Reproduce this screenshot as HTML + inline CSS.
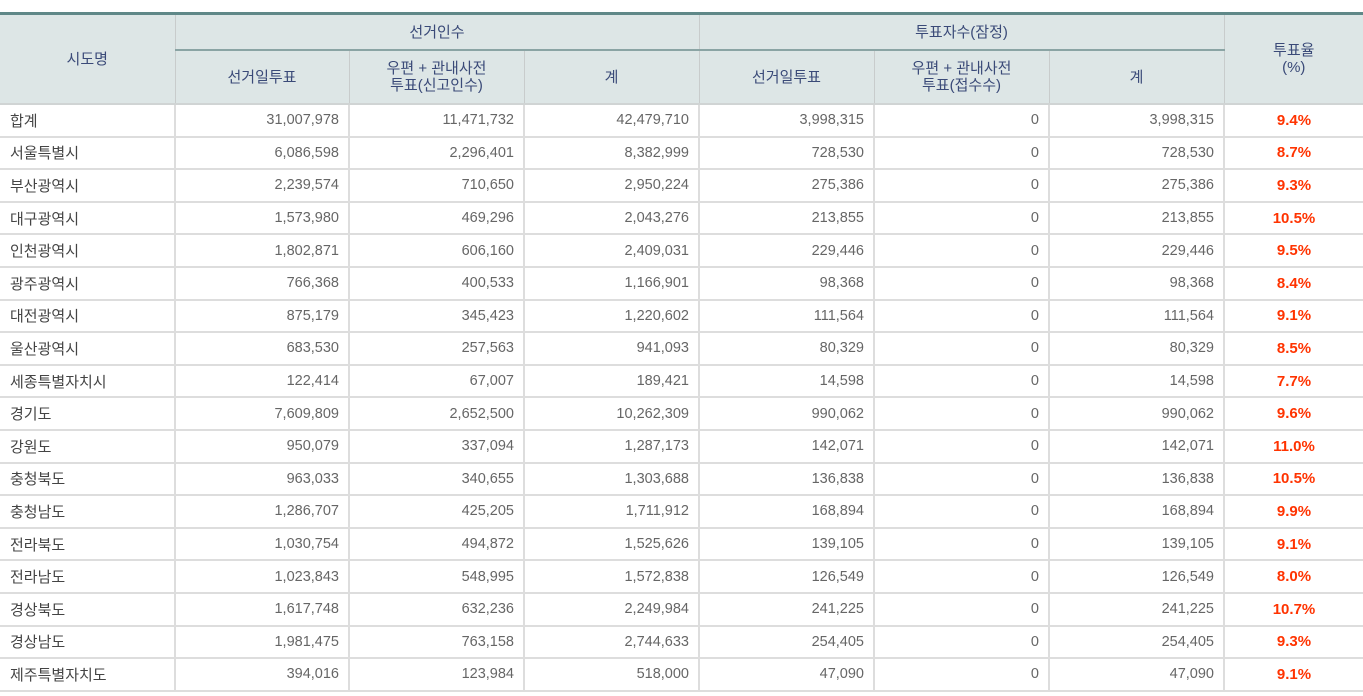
<!DOCTYPE html>
<html><head><meta charset="utf-8"><style>
body{margin:0;background:#fff;width:1363px;height:696px;overflow:hidden;font-family:"Liberation Sans","Noto Sans CJK KR","NanumGothic",sans-serif;}
table{position:absolute;left:0;top:12px;border-collapse:collapse;table-layout:fixed;width:1363px;border-top:3px solid #5f8888;}
th{background:#dde6e6;color:#3a4a78;font-weight:normal;font-size:15px;border-left:1px solid #c8cccc;border-right:1px solid #c8cccc;border-bottom:2px solid #d0d4d4;line-height:17px;padding:0;}
th.g{border-bottom:2px solid #8aa4a4;height:34px;}
tr.h2 th{height:52px;}
td{height:30.6px;border:1px solid #ddd;border-width:0 2px 2px 0;font-size:14.5px;color:#666;text-align:right;padding:0 9px 0 0;}
td:first-child{text-align:left;padding-left:10px;color:#444;font-size:15px;}
td:last-child{text-align:center;color:#ff3300;font-weight:bold;border-right:0;padding:0;font-size:15px;}
th:first-child{border-left:0}th:last-child{border-right:0}
</style></head><body>
<table>
<colgroup><col style="width:175px"><col style="width:174px"><col style="width:175px"><col style="width:175px"><col style="width:175px"><col style="width:175px"><col style="width:175px"><col style="width:139px"></colgroup>
<tr><th rowspan="2">시도명</th><th colspan="3" class="g">선거인수</th><th colspan="3" class="g">투표자수(잠정)</th><th rowspan="2">투표율<br>(%)</th></tr>
<tr class="h2"><th>선거일투표</th><th>우편 + 관내사전<br>투표(신고인수)</th><th>계</th><th>선거일투표</th><th>우편 + 관내사전<br>투표(접수수)</th><th>계</th></tr>
<tr><td>합계</td><td>31,007,978</td><td>11,471,732</td><td>42,479,710</td><td>3,998,315</td><td>0</td><td>3,998,315</td><td>9.4%</td></tr>
<tr><td>서울특별시</td><td>6,086,598</td><td>2,296,401</td><td>8,382,999</td><td>728,530</td><td>0</td><td>728,530</td><td>8.7%</td></tr>
<tr><td>부산광역시</td><td>2,239,574</td><td>710,650</td><td>2,950,224</td><td>275,386</td><td>0</td><td>275,386</td><td>9.3%</td></tr>
<tr><td>대구광역시</td><td>1,573,980</td><td>469,296</td><td>2,043,276</td><td>213,855</td><td>0</td><td>213,855</td><td>10.5%</td></tr>
<tr><td>인천광역시</td><td>1,802,871</td><td>606,160</td><td>2,409,031</td><td>229,446</td><td>0</td><td>229,446</td><td>9.5%</td></tr>
<tr><td>광주광역시</td><td>766,368</td><td>400,533</td><td>1,166,901</td><td>98,368</td><td>0</td><td>98,368</td><td>8.4%</td></tr>
<tr><td>대전광역시</td><td>875,179</td><td>345,423</td><td>1,220,602</td><td>111,564</td><td>0</td><td>111,564</td><td>9.1%</td></tr>
<tr><td>울산광역시</td><td>683,530</td><td>257,563</td><td>941,093</td><td>80,329</td><td>0</td><td>80,329</td><td>8.5%</td></tr>
<tr><td>세종특별자치시</td><td>122,414</td><td>67,007</td><td>189,421</td><td>14,598</td><td>0</td><td>14,598</td><td>7.7%</td></tr>
<tr><td>경기도</td><td>7,609,809</td><td>2,652,500</td><td>10,262,309</td><td>990,062</td><td>0</td><td>990,062</td><td>9.6%</td></tr>
<tr><td>강원도</td><td>950,079</td><td>337,094</td><td>1,287,173</td><td>142,071</td><td>0</td><td>142,071</td><td>11.0%</td></tr>
<tr><td>충청북도</td><td>963,033</td><td>340,655</td><td>1,303,688</td><td>136,838</td><td>0</td><td>136,838</td><td>10.5%</td></tr>
<tr><td>충청남도</td><td>1,286,707</td><td>425,205</td><td>1,711,912</td><td>168,894</td><td>0</td><td>168,894</td><td>9.9%</td></tr>
<tr><td>전라북도</td><td>1,030,754</td><td>494,872</td><td>1,525,626</td><td>139,105</td><td>0</td><td>139,105</td><td>9.1%</td></tr>
<tr><td>전라남도</td><td>1,023,843</td><td>548,995</td><td>1,572,838</td><td>126,549</td><td>0</td><td>126,549</td><td>8.0%</td></tr>
<tr><td>경상북도</td><td>1,617,748</td><td>632,236</td><td>2,249,984</td><td>241,225</td><td>0</td><td>241,225</td><td>10.7%</td></tr>
<tr><td>경상남도</td><td>1,981,475</td><td>763,158</td><td>2,744,633</td><td>254,405</td><td>0</td><td>254,405</td><td>9.3%</td></tr>
<tr><td>제주특별자치도</td><td>394,016</td><td>123,984</td><td>518,000</td><td>47,090</td><td>0</td><td>47,090</td><td>9.1%</td></tr>
</table>
</body></html>
